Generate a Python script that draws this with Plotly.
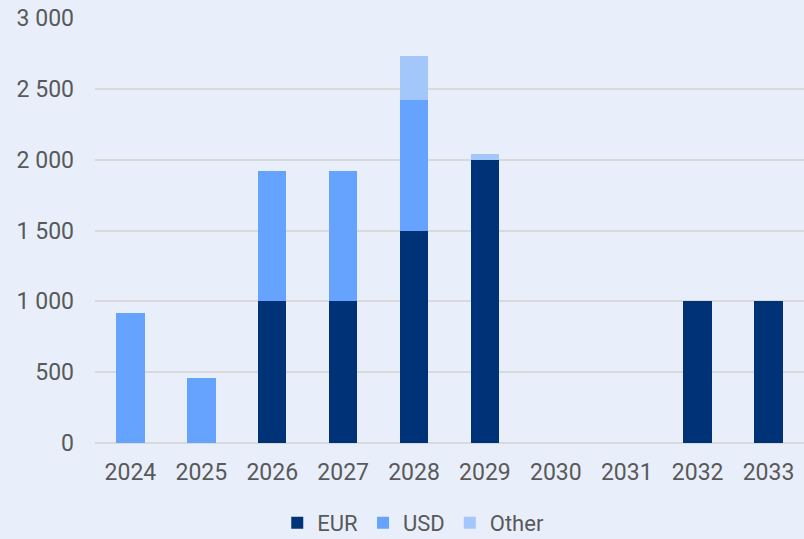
import plotly.graph_objects as go

years = ["2024", "2025", "2026", "2027", "2028", "2029", "2030", "2031", "2032", "2033"]
eur = [0, 0, 1000, 1000, 1500, 2000, 0, 0, 1000, 1000]
usd = [920, 460, 920, 920, 920, 0, 0, 0, 0, 0]
other = [0, 0, 0, 0, 310, 40, 0, 0, 0, 0]

bg = "#E8EFFB"
font_col = "#595959"

fig = go.Figure()
fig.add_bar(name="EUR", x=years, y=eur, marker=dict(color="#003278", line=dict(width=0)))
fig.add_bar(name="USD", x=years, y=usd, marker=dict(color="#66A3FF", line=dict(width=0)))
fig.add_bar(name="Other", x=years, y=other, marker=dict(color="#A3C7FA", line=dict(width=0)))

fig.update_layout(
    barmode="stack",
    bargap=0.6,
    width=804,
    height=539,
    paper_bgcolor=bg,
    plot_bgcolor=bg,
    separators=". ",
    font=dict(family="Roboto", size=23, color=font_col),
    margin=dict(l=95, r=0, t=18, b=96),
    showlegend=True,
    legend=dict(
        orientation="h",
        xref="container",
        yref="container",
        x=0.514,
        xanchor="center",
        y=0.03,
        yanchor="middle",
        font=dict(size=22, color=font_col),
        itemwidth=30,
        traceorder="normal",
    ),
    xaxis=dict(showgrid=False, showline=False, ticks="", tickfont=dict(size=23),
               ticklabelstandoff=13),
    yaxis=dict(
        range=[0, 3000],
        tickvals=[0, 500, 1000, 1500, 2000, 2500, 3000],
        separatethousands=True,
        tickformat=",d",
        gridcolor="#D9D9D9",
        gridwidth=1.5,
        zeroline=True,
        zerolinecolor="#D9D9D9",
        zerolinewidth=1.5,
        showline=False,
        ticks="",
        ticklabelstandoff=20,
        tickfont=dict(size=23),
    ),
)

fig.write_html(
    "out.html",
    config={"displayModeBar": False},
    post_script="document.body.style.margin='0';document.body.style.overflow='hidden';",
)
